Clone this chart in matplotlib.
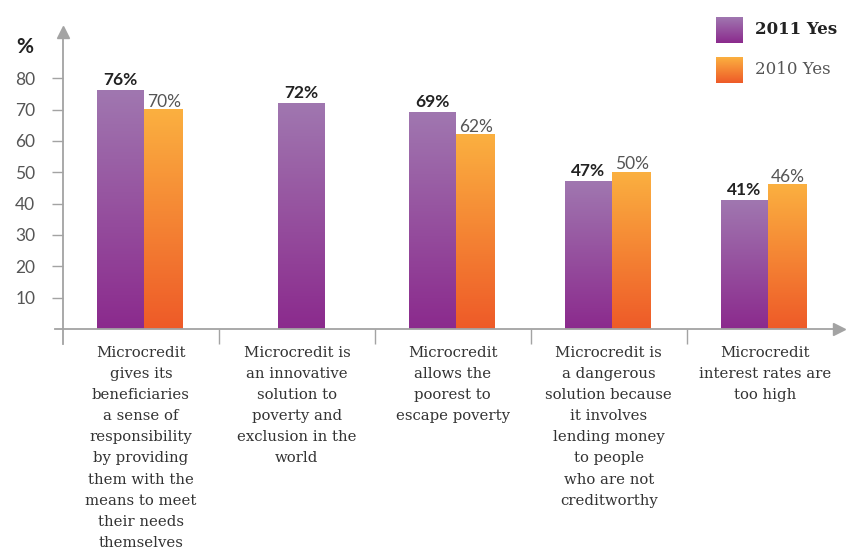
import numpy as np
import matplotlib
matplotlib.use("Agg")
import matplotlib.pyplot as plt
from matplotlib.colors import LinearSegmentedColormap

categories = [
    "Microcredit\ngives its\nbeneficiaries\na sense of\nresponsibility\nby providing\nthem with the\nmeans to meet\ntheir needs\nthemselves",
    "Microcredit is\nan innovative\nsolution to\npoverty and\nexclusion in the\nworld",
    "Microcredit\nallows the\npoorest to\nescape poverty",
    "Microcredit is\na dangerous\nsolution because\nit involves\nlending money\nto people\nwho are not\ncreditworthy",
    "Microcredit\ninterest rates are\ntoo high",
]
yes_2011 = [76, 72, 69, 47, 41]
yes_2010 = [70, np.nan, 62, 50, 46]
y_ticks = [10, 20, 30, 40, 50, 60, 70, 80]
series_names = ["2011 Yes", "2010 Yes"]

GRAY = "#a3a3a3"
purple_cmap = LinearSegmentedColormap.from_list("p", ["#8b2a8d", "#a077b0"])
orange_cmap = LinearSegmentedColormap.from_list("o", ["#ee5a28", "#fbb040"])
grad = np.linspace(0, 1, 256).reshape(-1, 1)

fig = plt.figure(figsize=(8.48, 5.51), dpi=100)
ax = fig.add_axes([0.0743, 0.403, 0.923, 0.5517])
ax.set_xlim(-0.5, 4.52)
ax.set_ylim(0, 97)
for s in ax.spines.values():
    s.set_visible(False)

x = np.arange(len(categories))
v10 = np.array(yes_2010, dtype=float)
# purple bar sits a bit left of group centre when an orange partner exists
left_11 = np.where(np.isnan(v10), x - 0.12, x - 0.28)
bars_11 = ax.bar(left_11, yes_2011, width=0.30, align="edge", color="none")
bars_10 = ax.bar(x + 0.02, np.nan_to_num(v10), width=0.245, align="edge", color="none")


def fill_gradient(rect, cmap):
    x0, w, h = rect.get_x(), rect.get_width(), rect.get_height()
    if h <= 0:
        return
    ax.imshow(grad, extent=(x0, x0 + w, 0, h), origin="lower", cmap=cmap,
              aspect="auto", zorder=2, interpolation="bilinear")


for rect, v in zip(bars_11, yes_2011):
    fill_gradient(rect, purple_cmap)
    ax.annotate(f"{v}%", xy=(rect.get_x() + rect.get_width() / 2, rect.get_height()),
                xytext=(0, 2), textcoords="offset points", ha="center", va="bottom",
                fontsize=12.5, fontweight="bold", family="Lato", color="#222222")
for rect, v in zip(bars_10, v10):
    if np.isnan(v):
        continue
    fill_gradient(rect, orange_cmap)
    ax.annotate(f"{int(v)}%", xy=(rect.get_x() + rect.get_width() / 2, rect.get_height()),
                xytext=(1, 0), textcoords="offset points", ha="center", va="bottom",
                fontsize=12.5, family="Lato", color="#555555")

ax.set_xlim(-0.5, 4.52)
ax.set_ylim(0, 97)

# axes with arrow heads
ax.plot([-0.55, 4.47], [0, 0], color=GRAY, lw=1.3, clip_on=False, zorder=3)
ax.plot([4.48], [0], marker=">", ms=9, color=GRAY, clip_on=False, zorder=3)
ax.plot([-0.5, -0.5], [-4.8, 94], color=GRAY, lw=1.3, clip_on=False, zorder=3)
ax.plot([-0.5], [94.8], marker="^", ms=9, color=GRAY, clip_on=False, zorder=3)

ax.set_yticks(y_ticks)
ax.tick_params(axis="y", length=8, width=1, color=GRAY, pad=12,
               labelsize=12.5, labelcolor="#555555")
for lbl in ax.get_yticklabels():
    lbl.set_family("Lato")
ax.set_xticks([])
ax.set_xticks([0.5, 1.5, 2.5, 3.5], minor=True)
ax.tick_params(axis="x", which="minor", length=11, width=1, color=GRAY, direction="out")

for i, cat in enumerate(categories):
    ax.annotate(cat, xy=(x[i], 0), xytext=(0, -12), textcoords="offset points",
                ha="center", va="top", fontsize=10.7, family="DejaVu Serif",
                linespacing=1.65, color="#333333")

fig.text(25 / 848, 1 - 47 / 551, "%", ha="center", va="center",
         fontsize=15, fontweight="bold", family="Lato", color="#222222")

# legend
for k, (cmap, name) in enumerate([(purple_cmap, series_names[0]), (orange_cmap, series_names[1])]):
    top = 17 + k * 40
    lax = fig.add_axes([716 / 848, (551 - top - 26) / 551, 27 / 848, 26 / 551])
    lax.imshow(grad, origin="lower", cmap=cmap, aspect="auto", extent=(0, 1, 0, 1))
    lax.axis("off")
    fig.text(755 / 848, 1 - (top + 13) / 551, name, ha="left", va="center",
             fontsize=12, family="DejaVu Serif",
             fontweight="bold" if k == 0 else "normal",
             color="#222222" if k == 0 else "#555555")

fig.savefig("out.png", dpi=100)
